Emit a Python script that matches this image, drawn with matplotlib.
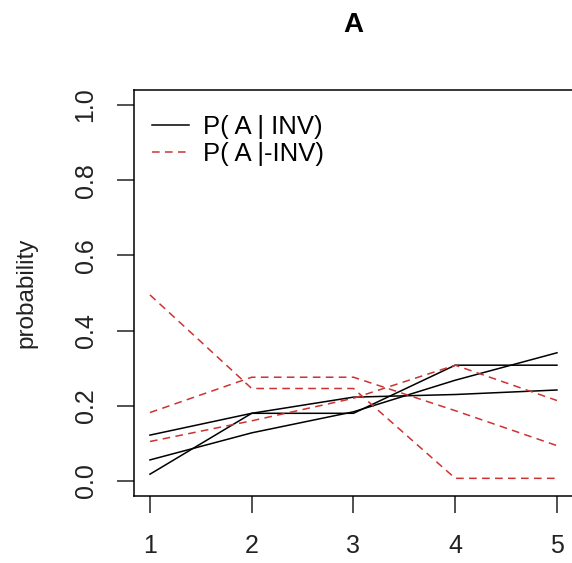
import matplotlib
matplotlib.use("Agg")
import matplotlib.pyplot as plt

x = [1, 2, 3, 4, 5]

# P(A | INV) curves (black, solid)
inv_a = [0.122, 0.180, 0.223, 0.230, 0.242]
inv_b = [0.018, 0.180, 0.180, 0.308, 0.308]
inv_c = [0.056, 0.128, 0.184, 0.268, 0.341]

# P(A |-INV) curves (red, dashed)
ninv_a = [0.495, 0.246, 0.246, 0.007, 0.007]
ninv_b = [0.182, 0.276, 0.276, 0.187, 0.094]
ninv_c = [0.105, 0.160, 0.220, 0.308, 0.214]

xticks = [1, 2, 3, 4, 5]
yticks = [0.0, 0.2, 0.4, 0.6, 0.8, 1.0]

plt.rcParams['font.family'] = ['Liberation Sans', 'DejaVu Sans']

fig = plt.figure(figsize=(5.72, 5.63), dpi=100)
ax = fig.add_axes([0.2337, 0.119, 0.7685, 0.7211])

red = '#cc3333'
for i, y in enumerate([inv_a, inv_b, inv_c]):
    ax.plot(x, y, color='black', lw=1.1, label='P( A | INV)' if i == 0 else None)
for i, y in enumerate([ninv_a, ninv_b, ninv_c]):
    ax.plot(x, y, color=red, lw=1.1, dashes=(5, 3.5),
            label='P( A |-INV)' if i == 0 else None)

ax.set_xlim(0.84, 5.16)
ax.set_ylim(-0.04, 1.04)
ax.set_xticks(xticks)
ax.set_xticklabels([str(t) for t in xticks])
ax.set_yticks(yticks)
ax.set_yticklabels(['%.1f' % t for t in yticks], rotation=90, va='center')
ax.tick_params(direction='out', length=12, width=1.1, labelsize=18, colors='#222222')
ax.tick_params(axis='x', pad=15.5)
ax.tick_params(axis='y', pad=14)
for s in ax.spines.values():
    s.set_linewidth(1.1)

# y label placed by hand, R puts it far out
fig.text(26 / 572, 0.4805, 'probability', fontsize=17.5, rotation=90,
         ha='center', va='center', color='#222222')
fig.text(0.617, 0.9556, 'A', fontsize=20, fontweight='bold', ha='center', va='center')

ax.legend(loc='upper left', frameon=False, fontsize=18.5, handlelength=1.45,
          handletextpad=0.55, labelspacing=0.1, borderaxespad=0.3,
          bbox_to_anchor=(0.0, 1.0 - 7 / 406))

fig.savefig('out.png', dpi=100)
